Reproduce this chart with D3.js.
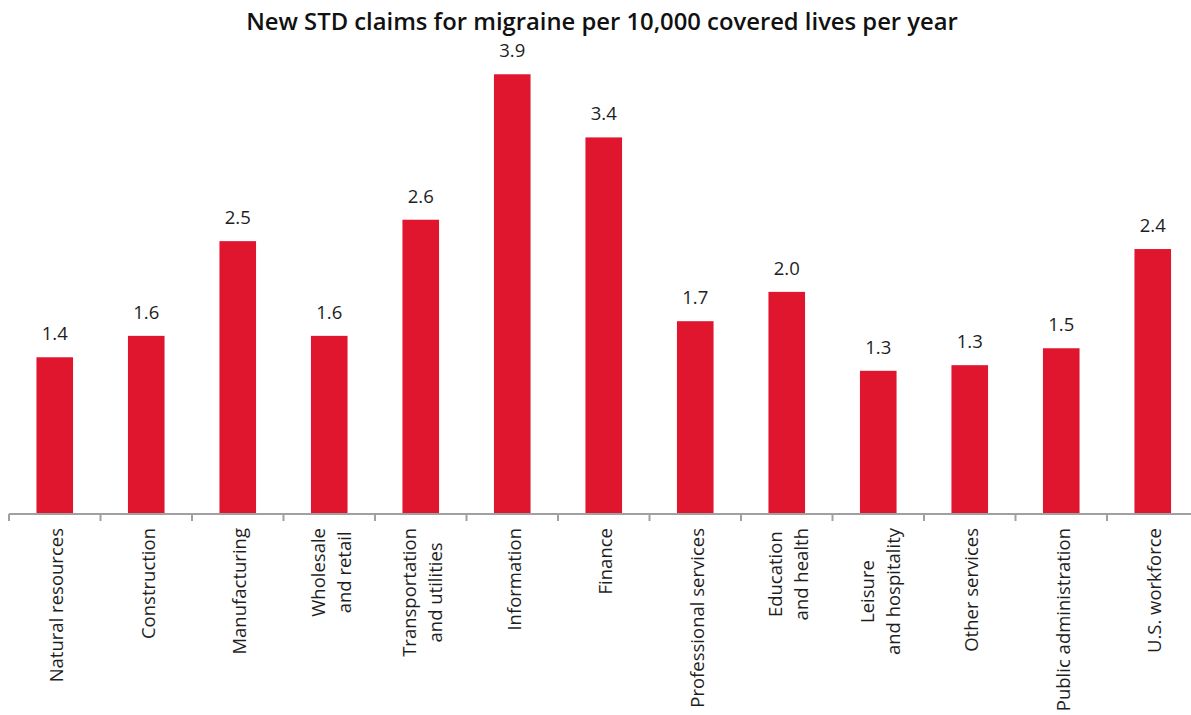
<!DOCTYPE html>
<html>
<head>
<meta charset="utf-8">
<script src="https://cdn.jsdelivr.net/npm/d3@7"></script>
<style>
  html, body { margin: 0; padding: 0; background: #fff; }
  svg { display: block; }
</style>
</head>
<body>
<svg id="chart" width="1191" height="715"></svg>
<script>
const title = "New STD claims for migraine per 10,000 covered lives per year";
const categories = [
  ["Natural resources"],
  ["Construction"],
  ["Manufacturing"],
  ["Wholesale", "and retail"],
  ["Transportation", "and utilities"],
  ["Information"],
  ["Finance"],
  ["Professional services"],
  ["Education", "and health"],
  ["Leisure", "and hospitality"],
  ["Other services"],
  ["Public administration"],
  ["U.S. workforce"]
];
const values = [1.39, 1.58, 2.42, 1.58, 2.61, 3.90, 3.34, 1.71, 1.97, 1.27, 1.32, 1.47, 2.35];
const valueLabels = ["1.4", "1.6", "2.5", "1.6", "2.6", "3.9", "3.4", "1.7", "2.0", "1.3", "1.3", "1.5", "2.4"];

const svg = d3.select("#chart");
const baseY = 514;
const x = d3.scaleBand().domain(d3.range(categories.length)).range([9, 1198.5]).padding(0);
const y = d3.scaleLinear().domain([0, 4]).range([baseY, baseY - 451]);
const barW = x.bandwidth() * 0.4;
const red = "#e0162f";
const textCol = "#1e1e1e";

// title (size fitted to the reference's title width)
const t = svg.append("text")
  .attr("x", 602).attr("y", 30)
  .attr("text-anchor", "middle")
  .attr("font-family", "'Open Sans', sans-serif")
  .attr("font-weight", 600)
  .attr("font-size", 23)
  .attr("fill", "#111")
  .text(title);
const tw = t.node().getComputedTextLength();
t.attr("font-size", 23 * 712 / tw);

// bars
svg.append("g").selectAll("rect")
  .data(values)
  .join("rect")
  .attr("x", (d, i) => x(i) + (x.bandwidth() - barW) / 2)
  .attr("width", barW)
  .attr("y", d => y(d))
  .attr("height", d => y(0) - y(d))
  .attr("fill", red);

// value labels
svg.append("g").selectAll("text")
  .data(values)
  .join("text")
  .attr("x", (d, i) => x(i) + x.bandwidth() / 2)
  .attr("y", d => y(d) - 17)
  .attr("text-anchor", "middle")
  .attr("font-family", "'Open Sans', sans-serif")
  .attr("font-size", 18.5)
  .attr("fill", textCol)
  .text((d, i) => valueLabels[i]);

// axis
const axisCol = "#a0a0a0";
const xAxis = d3.axisBottom(x).tickSize(0).tickFormat("");
const gAx = svg.append("g").attr("transform", `translate(0,${baseY})`).call(xAxis);
gAx.select(".domain").attr("stroke", axisCol).attr("stroke-width", 2).attr("d", `M9,0H1191`);
gAx.selectAll(".tick").remove();
const boundaries = d3.range(categories.length).map(i => x(i));
gAx.selectAll("line.tk")
  .data(boundaries)
  .join("line")
  .attr("class", "tk")
  .attr("x1", d => d).attr("x2", d => d)
  .attr("y1", 0).attr("y2", 7)
  .attr("stroke", axisCol).attr("stroke-width", 2);

// category labels
const labTop = 528;
const lineGap = 26;
const lg = svg.append("g");
categories.forEach((lines, i) => {
  const cx = x(i) + x.bandwidth() / 2;
  const g = lg.append("g").attr("transform", `translate(${cx},0) rotate(-90)`);
  const texts = lines.map((ln, j) => g.append("text")
    .attr("font-family", "'Open Sans', sans-serif")
    .attr("font-size", 18.5)
    .attr("fill", textCol)
    .attr("text-anchor", "middle")
    .attr("y", 8.5 + (j - (lines.length - 1) / 2) * lineGap)
    .text(ln));
  const W = d3.max(texts, tt => tt.node().getComputedTextLength());
  texts.forEach(tt => tt.attr("x", -(labTop + W / 2)));
});
</script>
</body>
</html>
